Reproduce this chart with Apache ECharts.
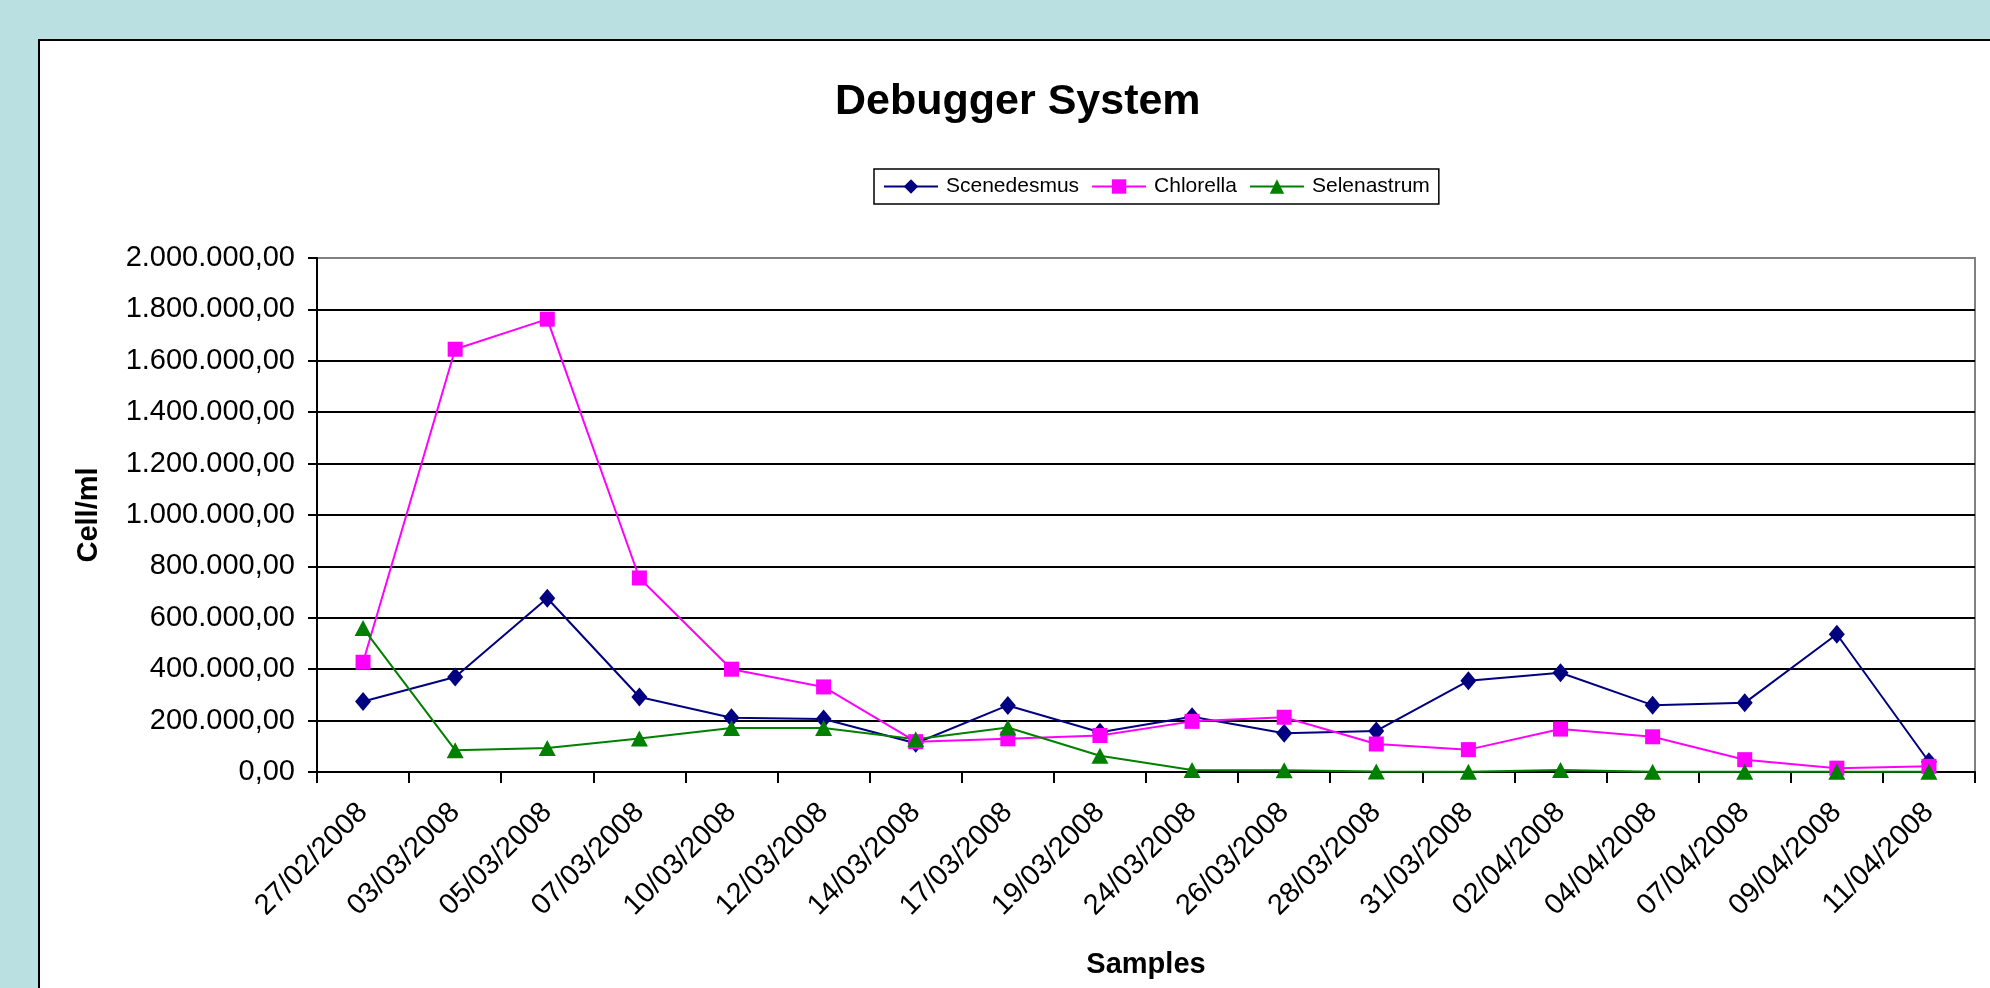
<!DOCTYPE html>
<html>
<head>
<meta charset="utf-8">
<script src="https://cdn.jsdelivr.net/npm/echarts@6/dist/echarts.min.js"></script>
<style>
html,body{margin:0;padding:0;background:#BAE0E2;}
#chart{width:1990px;height:988px;}
</style>
</head>
<body>
<div id="chart"></div>
<script>
var categories = ['27/02/2008','03/03/2008','05/03/2008','07/03/2008','10/03/2008','12/03/2008','14/03/2008','17/03/2008','19/03/2008','24/03/2008','26/03/2008','28/03/2008','31/03/2008','02/04/2008','04/04/2008','07/04/2008','09/04/2008','11/04/2008'];
var scenedesmus = [274000, 370000, 676000, 292000, 211000, 206000, 112000, 259000, 155000, 215000, 151000, 160000, 355000, 386000, 260000, 269000, 536000, 40000];
var chlorella   = [427000, 1645000, 1762000, 755000, 400000, 331000, 118000, 129000, 142000, 197000, 213000, 109000, 87000, 167000, 137000, 48000, 15000, 22000];
var selenastrum = [560000, 85000, 93000, 130000, 171000, 171000, 127000, 173000, 63000, 8000, 7000, 2000, 1000, 8000, 1000, 1000, 1000, 1000];
var yMin = 0, yMax = 2000000, yStep = 200000;

function fmt(v){
  var s = Math.round(v).toString();
  var out = '';
  while (s.length > 3) { out = '.' + s.slice(-3) + out; s = s.slice(0, -3); }
  return s + out + ',00';
}

var FONT = "'Liberation Sans', Arial, sans-serif";
var chart = echarts.init(document.getElementById('chart'), null, {renderer:'canvas'});
var gridColors = [];
for (var i = 0; i < 10; i++) gridColors.push('#000');
gridColors.push('#808080');

chart.setOption({
  backgroundColor: '#BAE0E2',
  animation: false,
  graphic: [{
    type: 'rect', z: -10, silent: true,
    shape: {x: 39, y: 40, width: 2100, height: 1100},
    style: {fill: '#fff', stroke: '#000', lineWidth: 2}
  }],
  title: {
    text: 'Debugger System',
    left: 835, top: 81,
    textStyle: {fontFamily: FONT, fontWeight: 'bold', fontSize: 43, color: '#000'},
    padding: 0
  },
  legend: {
    left: 874, top: 169,
    orient: 'horizontal',
    padding: [7, 9, 7, 9],
    borderColor: '#000', borderWidth: 1.5,
    backgroundColor: '#fff',
    itemWidth: 54, itemHeight: 18, itemGap: 12,
    textStyle: {fontFamily: FONT, fontSize: 21, color: '#000', padding: [0,0,0,3]},
    data: ['Scenedesmus', 'Chlorella', 'Selenastrum']
  },
  grid: {
    left: 317, right: 15, top: 258, bottom: 216,
    show: true, borderColor: '#808080', borderWidth: 2, backgroundColor: 'transparent'
  },
  xAxis: {
    type: 'category',
    data: categories,
    boundaryGap: true,
    name: 'Samples',
    nameLocation: 'middle',
    nameGap: 178,
    nameTextStyle: {fontFamily: FONT, fontWeight: 'bold', fontSize: 29, color: '#000'},
    axisLine: {lineStyle: {color: '#000', width: 2}},
    axisTick: {show: true, length: 11, inside: false, alignWithLabel: false, lineStyle: {color: '#000', width: 2}},
    axisLabel: {rotate: 45, margin: 36, interval: 0, fontFamily: FONT, fontSize: 29, color: '#000'},
    splitLine: {show: false}
  },
  yAxis: {
    type: 'value',
    min: yMin, max: yMax, interval: yStep,
    name: 'Cell/ml',
    nameLocation: 'middle',
    nameRotate: 90,
    nameGap: 214,
    nameTextStyle: {fontFamily: FONT, fontWeight: 'bold', fontSize: 29, color: '#000'},
    axisLine: {show: true, lineStyle: {color: '#000', width: 2}},
    axisTick: {show: true, length: 9, lineStyle: {color: '#000', width: 2}},
    axisLabel: {margin: 22, fontFamily: FONT, fontSize: 29, color: '#000', formatter: fmt},
    splitLine: {show: true, lineStyle: {color: gridColors, width: 2}}
  },
  series: [
    {name: 'Scenedesmus', type: 'line', data: scenedesmus,
     symbol: 'diamond', symbolSize: [16, 19],
     lineStyle: {color: '#000080', width: 2}, itemStyle: {color: '#000080'}},
    {name: 'Chlorella', type: 'line', data: chlorella,
     symbol: 'rect', symbolSize: 15,
     lineStyle: {color: '#FF00FF', width: 2}, itemStyle: {color: '#FF00FF'}},
    {name: 'Selenastrum', type: 'line', data: selenastrum,
     symbol: 'triangle', symbolSize: [17, 16],
     lineStyle: {color: '#008000', width: 2}, itemStyle: {color: '#008000'}}
  ]
});
</script>
</body>
</html>
